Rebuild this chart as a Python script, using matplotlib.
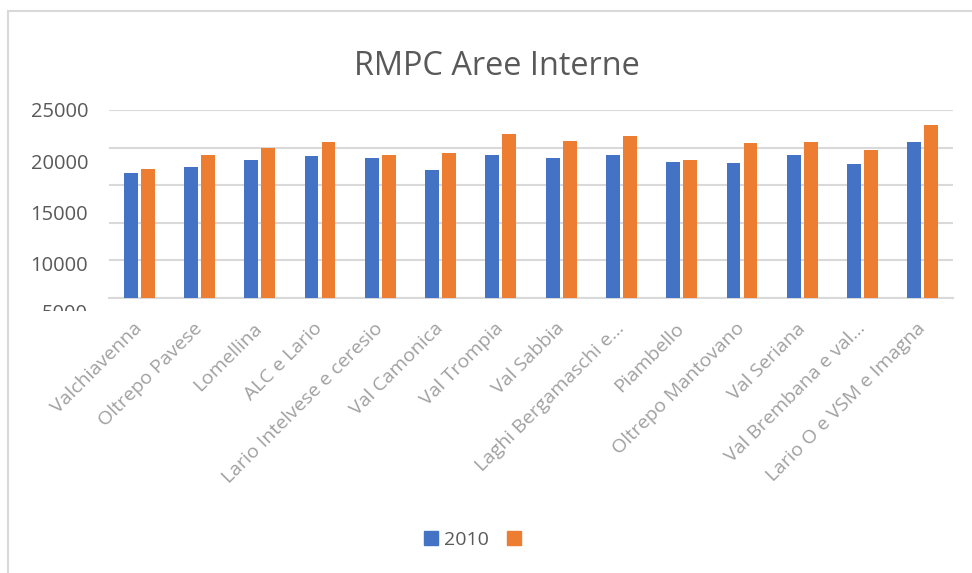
import numpy as np
import matplotlib
matplotlib.use('Agg')
from matplotlib import pyplot as plt
from matplotlib.patches import Patch
from matplotlib.lines import Line2D
from matplotlib.transforms import Bbox, TransformedBbox, blended_transform_factory

plt.rcParams['font.family'] = ['Open Sans', 'DejaVu Sans']

areas = [
    'Valchiavenna', 'Oltrepo Pavese', 'Lomellina', 'ALC e Lario',
    'Lario Intelvese e ceresio', 'Val Camonica', 'Val Trompia', 'Val Sabbia',
    'Laghi Bergamaschi e...', 'Piambello', 'Oltrepo Mantovano', 'Val Seriana',
    'Val Brembana e val...', 'Lario O e VSM e Imagna',
]
rmpc_2010 = [16620, 17420, 18350, 18880, 18620, 17020, 19020,
             18620, 19020, 18090, 17950, 19020, 17820, 20750]
rmpc_last = [17150, 19060, 19990, 20790, 18980, 19280, 21810,
             20880, 21540, 18350, 20610, 20790, 19680, 23000]
legend_labels = ['2010', '']
y_labels = [25000, 20000, 15000, 10000]

BLUE = '#4472C4'
ORANGE = '#ED7D31'
GRID = '#d9d9d9'
TXT = '#595959'

W, H = 972, 573


def fx(px):
    return px / W


def fy(py):
    return 1 - py / H


fig = plt.figure(figsize=(W / 100, H / 100), dpi=100)
rect = [fx(109), fy(298), fx(953) - fx(109), fy(110) - fy(298)]

ax = fig.add_axes(rect)
x = np.arange(len(areas))
ax.bar(x - 0.14, rmpc_2010, 0.23, color=BLUE, zorder=3)
ax.bar(x + 0.14, rmpc_last, 0.23, color=ORANGE, zorder=3)
ax.set_xlim(-0.5, len(areas) - 0.5)
ax.set_ylim(0, 25000)
ax.set_yticks(range(0, 25001, 5000))
ax.yaxis.grid(True, color=GRID, lw=1.5)
ax.set_axisbelow(True)
ax.tick_params(axis='y', length=0, labelleft=False)
for s in ['top', 'right', 'left']:
    ax.spines[s].set_visible(False)
ax.spines['bottom'].set_color(GRID)
ax.spines['bottom'].set_linewidth(1.5)
ax.set_xticks(x)
ax.set_xticklabels(areas, rotation=45, ha='right', va='center',
                   rotation_mode='anchor', fontsize=14, color='#a0a0a0')
ax.tick_params(axis='x', length=0, pad=20)

# tick labels sit on their own (shifted) scale, as in the original picture
ax2 = fig.add_axes(rect, frameon=False)
ax2.set_ylim(25000 - 188 / 51.1 * 5000, 25000)
ax2.set_xticks([])
ax2.set_yticks(y_labels)
ax2.set_yticklabels([str(v) for v in y_labels])
ax2.tick_params(axis='y', length=0, pad=15, labelsize=14.5, labelcolor=TXT)
trans = blended_transform_factory(ax2.transAxes, ax2.transData)
t = ax2.text(-15 / 72 * 100 / (rect[2] * W), 5000, '5000', transform=trans,
             ha='right', va='center', fontsize=14.5, color=TXT)
t.set_clip_box(TransformedBbox(Bbox.from_extents(0, fy(311), 1, 1), fig.transFigure))
t.set_clip_on(True)

fig.text(fx(496.5), fy(75), 'RMPC Aree Interne', ha='center', va='baseline',
         fontsize=23.4, color=TXT)

fig.legend(handles=[Patch(color=BLUE), Patch(color=ORANGE)], labels=legend_labels,
           ncol=2, loc='center left', bbox_to_anchor=(fx(424), fy(540)),
           frameon=False, fontsize=14, labelcolor=TXT,
           handlelength=0.72, handleheight=0.72, handletextpad=0.3,
           columnspacing=0.93, borderpad=0, borderaxespad=0)

fig.add_artist(Line2D([fx(8), fx(8)], [fy(11), 0], color=GRID, lw=1.5))
fig.add_artist(Line2D([fx(8), 1], [fy(11), fy(11)], color=GRID, lw=1.5))

fig.savefig('out.png', dpi=100)
